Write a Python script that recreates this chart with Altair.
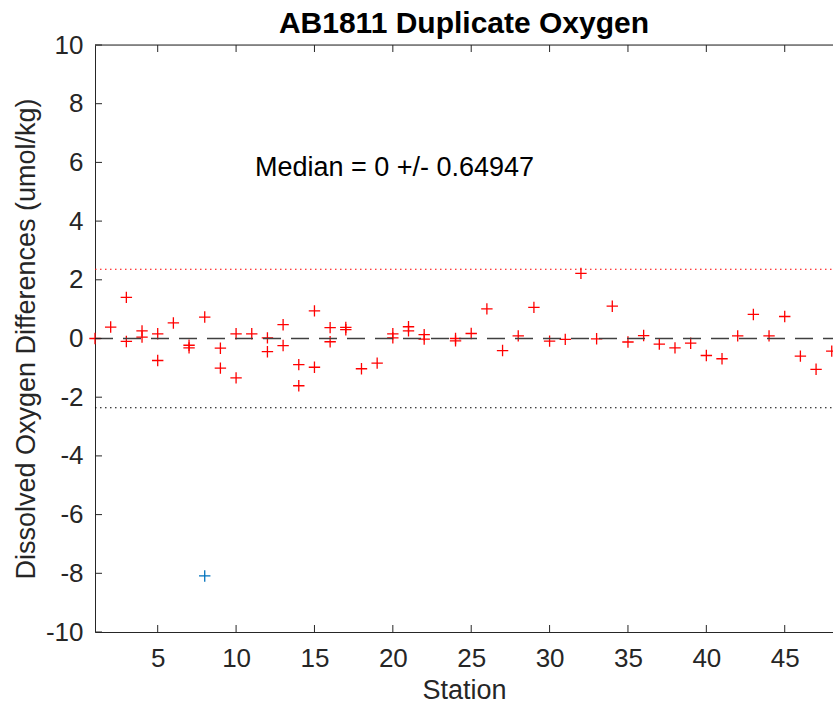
import altair as alt
import pandas as pd

# Data
stations = [1, 2, 3, 3, 4, 4, 5, 5, 6, 7, 7, 8, 9, 9, 10, 10, 11, 12, 12, 13, 13,
            14, 14, 15, 15, 16, 16, 17, 17, 18, 19, 20, 20, 21, 21, 22, 22, 24, 24,
            25, 26, 27, 28, 29, 30, 31, 32, 33, 34, 35, 36, 37, 38, 39, 40, 41, 42,
            43, 44, 45, 46, 47, 48]
diffs = [0.0, 0.39, 1.40, -0.10, 0.26, 0.05, 0.16, -0.75, 0.53, -0.23, -0.32, 0.73,
         -0.33, -1.01, 0.16, -1.34, 0.16, 0.02, -0.45, 0.47, -0.24, -0.89, -1.61,
         0.94, -0.98, 0.37, -0.11, 0.38, 0.30, -1.03, -0.84, 0.16, 0.02, 0.40, 0.26,
         0.13, -0.02, 0.0, -0.08, 0.17, 1.01, -0.41, 0.09, 1.06, -0.09, -0.03, 2.22,
         -0.01, 1.10, -0.12, 0.10, -0.19, -0.32, -0.16, -0.58, -0.69, 0.09, 0.82,
         0.09, 0.75, -0.60, -1.05, -0.43]
outlier_station = [8]
outlier_diff = [-8.09]

upper_limit = 2.36
lower_limit = -2.36
title_text = "AB1811 Duplicate Oxygen"
median_text = "Median = 0 +/- 0.64947"
y_ticks = [-10, -8, -6, -4, -2, 0, 2, 4, 6, 8, 10]
x_ticks = [5, 10, 15, 20, 25, 30, 35, 40, 45]

W, H = 738, 587
FONT = "Liberation Sans"
AX = "#262626"

good = pd.DataFrame({"station": stations, "diff": diffs})
bad = pd.DataFrame({"station": outlier_station, "diff": outlier_diff})
yt = pd.DataFrame({"v": y_ticks})
xt = pd.DataFrame({"v": x_ticks})

PLUS = "M-1,0L1,0M0,-1L0,1"

xscale = alt.Scale(domain=[1, 48.08], nice=False, zero=False)
yscale = alt.Scale(domain=[-10, 10], nice=False, zero=False)

xenc = alt.X("station:Q", scale=xscale,
             axis=alt.Axis(values=x_ticks, ticks=False, grid=False, title="Station",
                           labelFontSize=26, titleFontSize=27, labelFont=FONT,
                           titleFont=FONT, labelColor=AX, titleColor=AX,
                           titleFontWeight="normal", domainColor=AX, labelPadding=13,
                           titlePadding=6, labelFlush=False))
yenc = alt.Y("diff:Q", scale=yscale,
             axis=alt.Axis(values=y_ticks, ticks=False, grid=False,
                           title="Dissolved Oxygen Differences (umol/kg)",
                           labelExpr="'' + datum.value",
                           labelFontSize=26, titleFontSize=27, labelFont=FONT,
                           titleFont=FONT, labelColor=AX, titleColor=AX,
                           titleFontWeight="normal", domainColor=AX, labelPadding=12,
                           titlePadding=5, labelFlush=False))

pts_good = alt.Chart(good).mark_point(shape=PLUS, filled=False, color="#FF0000",
                                      size=130, strokeWidth=1.3, opacity=1).encode(x=xenc, y=yenc)
pts_bad = alt.Chart(bad).mark_point(shape=PLUS, filled=False, color="#0072BD",
                                    size=130, strokeWidth=1.3, opacity=1).encode(
    x=alt.X("station:Q", scale=xscale), y=alt.Y("diff:Q", scale=yscale))

zero_line = alt.Chart(pd.DataFrame({"y": [0]})).mark_rule(
    color="#404040", strokeWidth=1.6, strokeDash=[18, 10]).encode(
    y=alt.Y("y:Q", scale=yscale), x=alt.value(0), x2=alt.value(W))
up_line = alt.Chart(pd.DataFrame({"y": [upper_limit]})).mark_rule(
    color="#FF0000", strokeWidth=1.2, strokeDash=[1.5, 3.5]).encode(
    y=alt.Y("y:Q", scale=yscale), x=alt.value(0), x2=alt.value(W))
lo_line = alt.Chart(pd.DataFrame({"y": [lower_limit]})).mark_rule(
    color="#000000", strokeWidth=1.2, strokeDash=[1.5, 3.5]).encode(
    y=alt.Y("y:Q", scale=yscale), x=alt.value(0), x2=alt.value(W))

txt = alt.Chart(pd.DataFrame({"x": [11.2], "y": [5.8], "t": [median_text]})).mark_text(
    align="left", baseline="middle", fontSize=27, font=FONT, color="#000000").encode(
    x=alt.X("x:Q", scale=xscale), y=alt.Y("y:Q", scale=yscale), text="t:N")

title_mark = alt.Chart(pd.DataFrame({"t": [title_text]})).mark_text(
    align="center", baseline="alphabetic", fontSize=30, fontWeight="bold", font=FONT,
    color="#000000").encode(x=alt.value(W / 2), y=alt.value(-12), text="t:N")

left_ticks = alt.Chart(yt).mark_rule(color=AX, strokeWidth=1).encode(
    y=alt.Y("v:Q", scale=yscale), x=alt.value(0), x2=alt.value(7))
bottom_ticks = alt.Chart(xt).mark_rule(color=AX, strokeWidth=1).encode(
    x=alt.X("v:Q", scale=xscale), y=alt.value(H), y2=alt.value(H - 7))
top_ticks = alt.Chart(xt).mark_rule(color=AX, strokeWidth=1).encode(
    x=alt.X("v:Q", scale=xscale), y=alt.value(0), y2=alt.value(7))
top_border = alt.Chart(pd.DataFrame({"a": [0]})).mark_rule(color=AX, strokeWidth=1).encode(
    y=alt.value(0), x=alt.value(0), x2=alt.value(W))

chart = alt.layer(
    pts_good, zero_line, up_line, lo_line, txt, left_ticks, bottom_ticks, top_ticks,
    top_border, pts_bad, title_mark
).properties(
    width=W, height=H,
    autosize=alt.AutoSizeParams(type="none"),
    padding={"left": 95, "top": 45, "right": 0, "bottom": 76},
).configure_view(stroke=None).configure(background="white")

chart.save("out.html", embed_options={"renderer": "svg", "actions": False})
